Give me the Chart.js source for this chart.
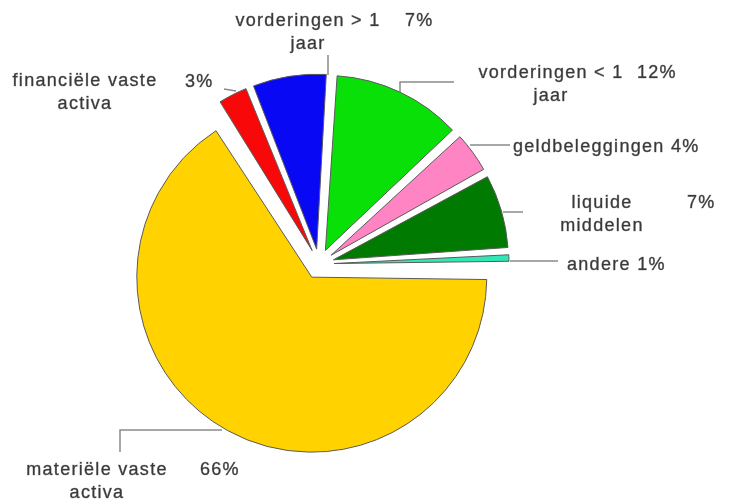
<!DOCTYPE html>
<html lang="nl">
<head>
  <meta charset="UTF-8" />
  <title>Samenstelling activa</title>
  <script src="https://cdn.jsdelivr.net/npm/chart.js"></script>
  <style>
    html, body {
      margin: 0;
      padding: 0;
      background: #fff;
    }

    .chart-container {
      width: 734px;
      height: 502px;
    }
  </style>
</head>
<body>
  <div class="chart-container">
    <canvas id="activaChart"></canvas>
  </div>

  <script>
    const categories = [
      'materiële vaste activa',
      'financiële vaste activa',
      'vorderingen > 1 jaar',
      'vorderingen < 1 jaar',
      'geldbeleggingen',
      'liquide middelen',
      'andere'
    ];
    const shares = [66, 3, 7, 12, 4, 7, 1];
    const sliceColors = ['#ffd200', '#f80808', '#0808f5', '#08e008', '#ff84c4', '#007a00', '#32e6b6'];

    // label placement (text lines centred on cx, percentage left aligned)
    const labelLayout = [
      { lines: ['materiële vaste', 'activa'], cx: 97, y: 475, pct: [200, 475], leader: [[222, 430], [120, 430], [120, 452]] },
      { lines: ['financiële vaste', 'activa'], cx: 85, y: 86, pct: [185, 87], leader: [[224, 89], [236, 91]] },
      { lines: ['vorderingen > 1', 'jaar'], cx: 308, y: 26, pct: [405, 26], leader: [[328, 55], [328, 75]] },
      { lines: ['vorderingen < 1', 'jaar'], cx: 551, y: 78, pct: [637, 78], leader: [[400, 92], [400, 82], [454, 82]] },
      { inline: 513, y: 152, leader: [[470, 145], [510, 145]] },
      { lines: ['liquide', 'middelen'], cx: 602, y: 208, pct: [687, 208], leader: [[503, 212], [523, 212]] },
      { inline: 567, y: 270, leader: [[510, 261], [558, 261]] }
    ];

    // keep every exploded slice at the same radius
    const evenRadius = {
      id: 'evenRadius',
      beforeDatasetsDraw(chart) {
        const meta = chart.getDatasetMeta(0);
        const base = meta.controller.outerRadius;
        meta.data.forEach(arc => {
          const shift = (arc.options.offset || 0) / 4;
          const fix = 1 - Math.sin(Math.min(Math.PI, arc.circumference));
          arc.outerRadius = base - shift * fix;
        });
      }
    };

    const sliceLabels = {
      id: 'sliceLabels',
      afterDraw(chart) {
        const ctx = chart.ctx;
        ctx.save();
        ctx.font = '18px "Liberation Sans", Arial, sans-serif';
        ctx.letterSpacing = '1.3px';
        ctx.textBaseline = 'alphabetic';

        const text = (str, x, y) => {
          ctx.fillText(str, x, y);
          ctx.strokeText(str, x, y);
        };

        labelLayout.forEach((lab, i) => {
          ctx.strokeStyle = '#8a8a8a';
          ctx.lineWidth = 1.5;
          ctx.beginPath();
          lab.leader.forEach(([x, y], k) => (k ? ctx.lineTo(x, y) : ctx.moveTo(x, y)));
          ctx.stroke();

          ctx.fillStyle = '#3a3a3a';
          ctx.strokeStyle = 'rgba(58, 58, 58, 0.55)';
          ctx.lineWidth = 0.6;
          const pct = `${shares[i]}%`;
          if (lab.inline !== undefined) {
            ctx.textAlign = 'left';
            text(`${categories[i]} ${pct}`, lab.inline, lab.y);
            return;
          }
          ctx.textAlign = 'center';
          lab.lines.forEach((line, k) => text(line, lab.cx, lab.y + k * 23));
          ctx.textAlign = 'left';
          text(pct, lab.pct[0], lab.pct[1]);
        });
        ctx.restore();
      }
    };

    new Chart(document.getElementById('activaChart'), {
      type: 'pie',
      data: {
        labels: categories,
        datasets: [{
          data: shares,
          backgroundColor: sliceColors,
          borderColor: '#5a5a5a',
          borderWidth: 1,
          offset: 60
        }]
      },
      options: {
        responsive: true,
        maintainAspectRatio: false,
        animation: false,
        events: [],
        rotation: 90,
        radius: 175,
        layout: {
          padding: { left: 0, right: 96, top: 26, bottom: 0 }
        },
        plugins: {
          legend: { display: false },
          tooltip: { enabled: false }
        }
      },
      plugins: [evenRadius, sliceLabels]
    });
  </script>
</body>
</html>
